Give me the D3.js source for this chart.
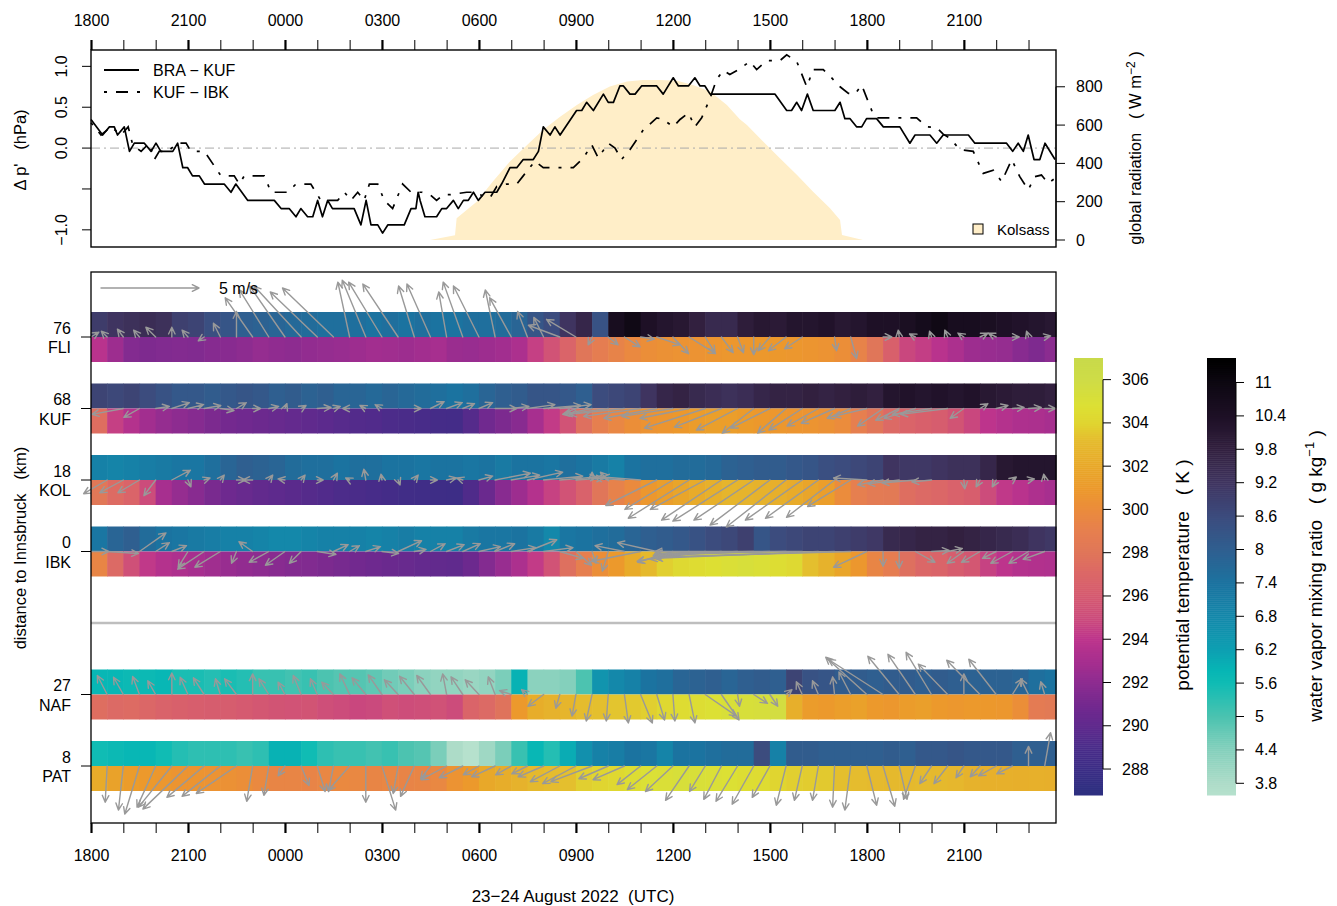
<!DOCTYPE html>
<html>
<head>
<meta charset="utf-8">
<script src="https://cdn.jsdelivr.net/npm/d3@7/dist/d3.min.js"></script>
<style>
body { margin: 0; background: #fff; }
text { font-family: "Liberation Sans", Arial, sans-serif; white-space: pre; }
</style>
</head>
<body>
<svg id="chart" width="1337" height="906"></svg>
<script>
// time is given in hours after 23 Aug 2022 18:00 UTC
const hourLabels = ['1800','2100','0000','0300','0600','0900','1200','1500','1800','2100'];

// pressure differences (hPa)
const braKufTime = [0,0.36,0.57,0.72,0.82,1.03,1.19,1.34,1.65,1.86,2.01,2.16,2.53,2.68,2.84,2.99,3.14,3.35,3.51,4.12,
  4.33,4.48,4.85,5.67,5.88,6.13,6.34,6.49,6.7,6.86,7.01,7.16,7.32,7.47,8.14,8.35,8.51,8.66,8.87,9.02,
  9.18,9.69,9.9,10.05,10.12,10.18,10.33,10.69,10.85,11.0,11.21,11.36,11.52,11.67,11.83,11.98,12.19,12.55,12.7,12.96,
  13.17,13.37,13.68,13.84,13.99,14.2,14.35,14.51,15.02,15.18,15.33,15.54,15.85,16.0,16.16,16.36,16.47,16.67,16.83,17.03,
  17.5,17.7,18.01,18.17,18.48,18.68,18.84,18.99,19.15,21.16,21.52,21.67,21.83,21.98,22.16,22.34,23.01,23.17,23.32,23.48,
  23.68,23.84,23.99,24.3,24.51,25.02,25.33,25.49,25.95,26.16,26.36,27.14,27.34,28.32,28.51,28.68,28.84,28.99,29.17,29.35,
  29.51,29.82];
const braKufValue = [0.35,0.16,0.26,0.26,0.16,0.26,-0.04,0.06,0.06,-0.04,0.06,-0.04,-0.04,0.06,-0.24,-0.24,-0.34,-0.34,-0.44,-0.44,
  -0.54,-0.44,-0.64,-0.64,-0.74,-0.74,-0.84,-0.74,-0.84,-0.84,-0.64,-0.84,-0.64,-0.74,-0.74,-0.94,-0.64,-0.94,-0.94,-1.04,
  -0.94,-0.94,-0.74,-0.74,-0.54,-0.64,-0.84,-0.84,-0.74,-0.74,-0.64,-0.74,-0.64,-0.64,-0.54,-0.64,-0.54,-0.54,-0.44,-0.24,
  -0.24,-0.14,-0.14,-0.04,0.26,0.16,0.26,0.16,0.46,0.46,0.56,0.46,0.66,0.56,0.56,0.76,0.76,0.66,0.66,0.76,
  0.76,0.66,0.86,0.76,0.76,0.86,0.76,0.76,0.66,0.66,0.46,0.46,0.56,0.46,0.66,0.46,0.46,0.56,0.36,0.36,
  0.26,0.26,0.36,0.36,0.26,0.26,0.06,0.16,0.16,0.06,0.16,0.16,0.06,0.06,-0.04,0.06,-0.04,0.16,-0.14,-0.14,
  0.06,-0.14];
const kufIbkTime = [0,0.31,0.62,0.93,1.15,1.29,1.55,1.8,1.96,2.11,2.37,2.68,2.94,3.09,3.51,4.02,4.43,4.59,4.74,5.36,
  5.57,6.08,6.34,6.8,7.11,7.63,7.84,8.04,8.25,8.45,8.61,8.87,9.07,9.33,9.64,9.9,10.23,10.49,10.69,10.9,
  11.1,11.62,11.83,12.03,12.34,12.55,12.86,13.17,13.37,13.73,13.99,14.92,15.23,15.49,15.69,16.0,16.21,16.41,16.67,17.08,
  17.5,17.7,18.01,18.22,18.48,18.68,18.89,19.15,19.35,19.56,19.76,20.07,20.38,20.59,20.9,21.31,21.52,21.83,22.14,22.34,
  22.65,22.86,23.17,23.43,23.63,23.84,24.2,24.3,25.07,25.54,25.85,26.16,26.36,26.57,26.88,27.29,27.6,27.91,28.17,28.48,
  28.73,28.99,29.2,29.4,29.61,29.82];
const kufIbkValue = [0.31,0.16,0.26,0.16,0.26,0.04,-0.04,0.06,-0.14,-0.04,-0.04,0.06,0.06,-0.04,-0.04,-0.34,-0.34,-0.44,-0.34,-0.34,
  -0.54,-0.54,-0.44,-0.44,-0.64,-0.64,-0.54,-0.64,-0.54,-0.64,-0.44,-0.44,-0.64,-0.74,-0.44,-0.54,-0.54,-0.57,-0.64,-0.57,
  -0.57,-0.54,-0.54,-0.57,-0.61,-0.47,-0.44,-0.44,-0.34,-0.16,-0.24,-0.24,-0.12,0.04,-0.12,0.06,0.0,-0.14,-0.02,0.22,
  0.37,0.35,0.26,0.35,0.43,0.26,0.37,0.61,0.84,0.95,0.9,0.97,1.06,0.96,1.07,1.07,1.14,1.06,0.75,0.96,
  0.96,0.88,0.75,0.67,0.66,0.77,0.41,0.37,0.37,0.37,0.26,0.25,0.17,0.12,-0.02,-0.04,-0.31,-0.27,-0.41,-0.14,
  -0.35,-0.51,-0.35,-0.33,-0.43,-0.37];

// global radiation at Kolsass (W m-2)
const radTime = [10.49,11.26,11.31,11.93,12.43,12.96,13.49,13.98,14.51,15.03,15.53,16.05,16.58,17.07,17.6,18.13,18.62,19.15,19.67,20.07,
  20.29,20.79,21.31,21.84,22.33,22.86,23.17,23.23,23.88];
const radValue = [0,25,113,200,305,410,496,574,644,705,757,801,827,836,836,831,809,775,705,630,
  601,514,427,340,253,166,104,26,0];

// stations
const stationNames = ['FLI','KUF','KOL','IBK','NAF','PAT'];
const stationDist = [76,68,18,0,27,8];

// half-hourly water vapor mixing ratio (g/kg)
const fliQ = [9.0,9.2,9.3,9.4,9.3,8.9,8.8,8.5,8.3,8.0, 7.9,7.8,7.7,7.6,7.5,7.5,7.5,7.4,7.5,7.4,
  7.5,7.4,7.4,7.5,7.5,7.6,7.8,8.3,8.6,9.2, 9.6,8.4,10.6,10.9,10.4,10.2,10.1,9.8,9.5,9.5,
  9.9,10.1,10.0,10.2,10.2,10.3,10.1,10.2,10.4,10.4, 10.5,10.7,10.9,10.6,10.6,10.5,10.4,10.3,10.2,10.1];
const kufQ = [8.8,8.7,8.8,8.6,8.4,8.2,8.2,8.1,8.2,8.3, 8.2,8.0,8.1,7.9,8.0,7.8,7.8,7.7,7.8,7.7,
  7.6,7.5,7.4,7.5,7.8,8.0,8.1,8.3,8.3,8.2, 8.0,8.6,8.7,8.8,9.2,9.6,9.7,9.5,9.4,9.3,
  9.4,9.6,9.7,9.7,9.8,9.7,9.8,9.9,9.8,10.2, 10.3,10.2,10.3,10.2,10.3,10.1,10.0,9.9,9.9,9.8];
const kolQ = [7.0,6.9,7.0,7.1,7.2,7.3,7.3,7.5,7.8,8.0, 7.9,7.8,7.6,7.5,7.5,7.4,7.5,7.5,7.4,7.4,
  7.3,7.4,7.4,7.3,7.4,7.2,7.4,7.4,7.3,7.5, 7.4,7.2,7.0,7.4,7.5,7.5,7.6,7.6,7.7,7.9,
  8.0,8.1,8.1,8.2,8.3,8.5,8.6,8.7,8.8,9.2, 9.1,9.1,9.2,9.3,9.3,9.6,10.1,10.2,10.2,10.2];
const ibkQ = [7.3,7.8,8.0,7.6,7.4,7.3,7.2,7.1,7.0,7.0, 6.9,6.8,6.8,6.9,7.0,7.0,7.0,6.9,7.0,7.1,
  7.0,7.0,7.0,7.2,7.3,7.3,7.4,7.2,6.8,7.3, 7.4,7.5,7.6,7.8,8.0,8.1,8.2,8.4,8.6,8.7,
  8.9,8.3,8.6,8.7,8.8,8.8,8.9,9.0,9.1,9.5, 9.6,9.7,9.7,9.8,9.7,9.6,9.5,9.4,9.2,9.1];
const nafQ = [5.8,5.8,5.7,5.7,5.8,5.5,5.5,5.4,5.5,5.4, 5.2,5.2,5.1,5.2,5.0,4.9,4.9,4.8,4.6,4.5,
  4.3,4.2,4.2,4.1,4.2,4.5,5.9,4.3,4.3,4.4, 5.0,6.5,6.8,7.0,7.4,7.5,7.8,7.9,8.0,7.8,
  8.0,8.1,8.0,8.8,8.4,8.3,8.1,8.1,8.0,8.1, 8.1,8.0,8.1,8.0,7.9,7.9,7.9,7.8,7.5,7.4];
const patQ = [5.6,5.7,5.8,5.8,5.6,5.4,5.3,5.3,5.3,5.2, 5.3,5.9,5.9,5.6,5.3,5.2,5.2,5.1,5.2,5.0,
  4.9,4.5,3.8,3.6,4.0,4.5,5.2,5.8,5.4,6.0, 6.6,7.0,7.1,7.4,7.3,6.9,7.4,7.4,7.5,7.6,
  7.6,8.6,7.0,8.1,8.1,8.0,8.0,8.0,8.0,8.1, 8.0,8.2,8.2,8.3,8.2,8.2,8.2,8.0,8.0,8.0];

// half-hourly potential temperature (K)
const fliTheta = [293.8,292.6,291.6,291.4,291.5,291.6,291.5,291.7,291.8,292.0, 292.3,292.1,292.0,292.2,292.3,292.4,292.6,292.8,292.7,292.6,
  292.8,293.0,292.5,292.4,292.6,292.8,293.2,294.5,295.5,296.8, 298.0,298.8,299.3,299.8,300.2,300.4,300.5,300.5,300.7,300.8,
  300.8,300.9,300.9,300.8,300.7,300.5,300.2,299.3,298.0,296.5, 294.8,294.4,293.8,293.2,292.6,292.4,292.3,291.8,291.4,291.9];
const kufTheta = [297.5,294.5,293.6,292.8,292.3,292.0,291.7,291.3,291.0,290.8, 290.6,290.4,290.2,290.0,289.8,289.6,289.4,289.3,289.1,289.0,
  288.9,288.7,288.6,289.5,290.8,291.3,291.8,293.0,294.3,295.5, 297.6,299.0,299.6,300.2,300.5,300.7,300.9,301.2,301.4,301.3,
  301.1,300.9,300.8,300.7,300.6,300.4,300.0,299.0,298.0,297.2, 296.8,296.5,296.2,295.6,294.8,294.0,293.6,293.3,293.2,293.0];
const kolTheta = [298.2,297.3,296.8,295.0,293.0,292.3,291.8,291.2,290.7,290.4, 290.1,289.9,289.7,289.5,289.3,289.1,289.0,288.8,288.6,288.4,
  288.3,288.2,288.1,289.2,290.5,291.8,292.6,293.6,294.6,295.5, 296.6,298.0,299.2,299.9,300.8,301.3,301.8,302.2,302.5,302.8,
  302.7,302.6,302.4,302.2,301.8,301.3,300.0,299.0,298.5,298.4, 297.5,297.2,297.0,296.6,296.3,295.0,294.2,293.8,293.3,293.0];
const ibkTheta = [299.5,297.2,295.3,294.2,293.6,293.3,293.0,292.7,292.4,292.2, 292.0,291.8,291.6,291.5,291.3,291.1,290.9,290.7,290.5,290.4,
  290.2,290.1,290.0,290.6,291.6,292.4,293.2,294.3,295.5,297.6, 299.0,300.2,301.0,302.2,303.0,303.8,304.3,304.5,304.7,305.0,
  305.2,305.0,304.6,304.3,303.3,302.6,301.8,300.8,299.5,298.8, 297.6,297.0,296.8,296.2,295.8,294.6,294.0,293.6,293.5,293.4];
const nafTheta = [297.5,297.2,297.3,297.0,296.7,296.5,296.3,296.2,296.2,296.0, 295.8,295.6,295.5,295.6,295.2,295.0,294.8,294.9,295.3,295.1,
  295.2,295.4,295.0,296.8,297.2,297.8,301.0,302.3,302.6,302.8, 303.2,303.3,303.5,303.6,303.8,304.2,304.5,304.6,304.8,305.1,
  305.2,305.3,305.6,302.4,301.2,301.0,301.3,301.5,301.0,300.8, 301.2,301.4,301.0,300.8,301.0,300.9,300.8,300.2,298.6,298.4];
const patTheta = [302.2,301.6,301.2,301.0,300.8,300.6,300.6,300.5,300.4,300.2, 299.8,299.5,299.5,299.4,299.6,299.8,299.7,299.5,299.6,299.4,
  299.5,299.7,300.5,301.0,302.0,302.3,302.6,303.0,303.2,303.3, 303.8,304.0,304.2,304.6,304.9,305.0,305.2,305.1,305.0,304.8,
  304.6,304.5,304.0,303.8,303.7,303.6,303.3,303.2,303.1,303.0, 303.0,303.1,303.0,302.9,302.6,302.5,302.5,302.4,302.5,302.4];

// half-hourly wind components (m/s), null = no arrow
const fliU = [0.4,-0.3,-0.3,-0.3,-0.5,0,-0.3,-0.3,-0.35,0, -1.4,-1.5,-1.8,-2.4,-2.4,-2.6,-0.6,-1.2,-1.7,-1.8,
  -0.8,-1.2,-0.4,-1.0,-1.3,-0.5,-1.1,-0.5,-0.5,-1.6, -1.5,-0.2,0.5,0.8,0.7,1.2,0.8,1.35,0.5,0.6,
  0.3,0,-0.6,-0.9,-0.9,null,0.1,0.3,null,0.45, -0.05,-0.3,-0.1,-0.15,-0.3,0.4,-0.4,0.35,-0.1,0.3];
const fliV = [0.25,0.3,0.4,0.35,0.5,0.5,0.35,-0.2,0.7,1.3, 2.0,2.4,2.6,2.6,2.3,2.5,2.8,2.9,2.8,2.7,
  2.6,2.7,2.3,2.8,2.6,2.4,2.0,1.3,1.0,0.6, 0.9,-0.4,-0.4,-0.5,-0.1,-0.4,-0.85,-0.85,-0.8,-0.8,
  -0.8,-0.9,-0.7,-0.7,-0.6,null,-0.7,-1.1,null,0, 0.35,0.15,0.3,0.35,0.2,0.2,0.2,0,0.3,0.05];
const kufU = [null,null,-1.6,-0.8,0.7,0.9,0.8,0.85,0.7,0.5, 0.4,0.5,0.1,0.25,0.7,0.35,-0.35,-0.3,-0.35,null,
  0.35,0.7,0.8,0.6,0.7,1.1,0.9,1.4,1.9,1.6, -0.5,-1.5,-2.2,-2.8,-2.9,-2.7,-2.6,-2.5,-3.1,-2.4,
  -2.1,-1.6,-2.0,-1.45,-1.7,-1.6,-1.7,-1.2,-1.7,-1.3, -1.2,-1.6,-2.0,-2.4,-0.7,0.4,0.6,0.6,0.65,0.55];
const kufV = [null,null,-0.3,-0.45,0.1,0.3,0.2,0.15,-0.1,0.3, 0,0.1,0.25,0.15,0.05,0.1,0,0.15,0.2,null,
  0,0.35,0.3,0.25,0.3,0,0.1,0.2,0.15,0.2, -0.2,-0.3,-0.3,-0.3,-0.4,-0.5,-0.4,-0.5,-1.0,-0.95,
  -1.1,-1.25,-1.0,-1.25,-1.1,-0.9,-0.75,-0.5,-0.4,-0.9, -0.6,-0.5,-0.3,-0.3,-0.5,0.25,0.15,0.05,0.05,0];
const kolU = [null,-1.2,-1.2,-1.1,-0.6,0.95,0.15,0.3,0.2,0.45, -0.5,0.2,-0.35,0.2,0.3,0.2,-0.2,-0.1,-0.05,0.1,
  0.2,0.35,0.5,-0.3,0.7,1.8,1.45,1.8,2.0,1.9, 1.4,0,-0.4,-1.5,-1.95,-2.6,-2.45,-3.1,-2.8,-3.05,
  -3.3,-3.05,-3.05,-3.05,-2.9,-2.7,-2.45,-2.2,-1.7,-1.3, -1.6,-1.7,-1.0,null,0.05,-0.2,-0.2,0.2,0.3,-0.05];
const kolV = [null,-0.7,-0.65,-0.65,-0.8,0.5,-0.35,0.1,0.25,0, 0,0.25,0.05,0.25,0,0.35,0.1,0.55,0.3,-0.25,
  0.25,0,0.1,0.1,0.2,0.35,0.25,0.4,0.2,0.15, 0.1,0.4,0.4,0.1,0.15,-1.3,-1.5,-1.95,-1.5,-2.05,
  -2.1,-2.05,-2.3,-2.4,-2.05,-1.95,-1.9,-1.35,0.1,-0.25, -0.2,-0.15,-0.1,null,-0.45,-0.35,-0.35,0.15,0.05,0.3];
const ibkU = [0.9,1.6,null,1.35,0.7,0.75,-0.5,-1.35,-1.3,-0.25, -0.7,-1.0,-1.0,-0.6,0.95,0.75,0.5,0.75,0.85,1.2,
  0.6,0.75,0.9,0.9,1.1,1.0,1.25,1.5,1.5,1.2, 0.8,0.2,-0.3,-1.5,-2.5,-2.0,-1.8,-2.65,-2.8,-3.5,
  -4.3,-5.0,-5.9,-6.7,-7.5,-8.3,-9.2,-10.0,-1.7,0, 0,1.0,0.9,0.75,-0.85,-0.95,-0.7,-1.1,-1.0,-1.1];
const ibkV = [0,-0.1,null,0.95,0.45,0.3,-0.8,-0.9,-0.8,-0.6, 0.5,-0.55,-0.7,-0.6,-0.15,0.35,0.3,0.25,-0.1,0.55,
  0.1,0.4,0.35,0.4,0.25,0.4,0.2,0.6,0.2,-0.35, -0.7,-0.6,-1.0,0.3,-0.5,0.45,-0.55,-0.5,-0.4,-0.3,
  -0.2,-0.1,-0.2,-0.1,0,-0.35,-0.3,-0.3,-0.8,-0.75, -0.85,-0.55,0.05,0.15,-0.6,-0.55,-0.35,-0.6,-0.6,-0.4];
const nafU = [null,-0.5,-0.5,-0.35,-0.4,0,-0.4,-0.55,-0.25,-0.6, 0,-0.5,-0.35,-0.4,-0.35,-0.6,-0.5,-0.7,-0.7,-0.7,
  -0.75,-0.7,-0.2,-0.6,-0.7,-0.35,-0.6,-0.3,-0.8,-0.2, -0.2,-0.3,-0.1,0.2,0.6,0.4,0.1,0.3,1.6,0.9,
  0.1,0.7,0.4,0.3,-0.3,-0.3,-0.1,-0.6,-2.1,-2.8, -1.6,-1.4,-1.3,-1.5,0,-1.7,-1.4,0.5,-0.4,-0.2];
const nafV = [null,0.97,0.88,0.92,0.7,1.1,0.88,0.85,0.8,0.8, 1.05,0.8,0.63,0.97,0.8,0.63,1.05,0.85,1.0,0.75,
  0.93,0.97,1.05,0.9,0.75,0.9,0.2,0.25,-0.6,-0.7, -1.1,-1.35,-1.35,-1.45,-1.45,-1.3,-1.35,-1.45,-1.1,-1.3,
  -0.6,-0.45,-0.6,0.25,0.65,0.7,0.9,1.15,1.9,1.8, 1.95,2.05,2.15,1.55,1.05,1.75,1.8,0.8,0.8,0.65];
const patU = [null,-0.1,-0.25,-0.75,-0.95,-1.7,-2.3,-1.9,-1.95,-2.05, -0.3,-0.25,-0.35,0.4,0.4,-0.25,-1.1,0,0.7,-0.25,
  -0.7,-0.5,-1.3,-1.2,-0.8,-1.2,-0.8,-0.8,-1.3,-1.5, -1.7,-2.1,-1.5,-1.6,-1.2,-1.5,-1.4,-1.2,-0.8,-0.9,
  -1.1,-1.1,-0.9,-0.5,-0.4,-0.3,-0.1,-0.3,0.5,0.6, 0.4,-0.6,-0.6,-0.7,-0.4,-0.5,-0.9,-0.8,0,0.3];
const patV = [null,-1.85,-2.25,-2.45,-2.1,-2.1,-2.2,-1.6,-1.55,-1.4, -1.8,-1.5,-0.5,-1.0,-1.3,-1.3,-1.25,-1.85,-2.25,-1.4,
  -1.55,-0.65,-0.7,-0.6,-0.45,-0.55,-0.45,-0.4,-0.55,-0.8, -0.9,-0.8,-0.65,-0.7,-0.95,-1.2,-1.3,-1.75,-1.3,-1.7,
  -1.8,-1.95,-1.6,-2.0,-1.75,-1.75,-2.1,-2.25,-2.0,-2.05, -1.7,-1.7,-0.9,-0.9,-0.6,-0.55,-0.5,-0.4,1.0,1.7];

// colour bars
const thetaTicks = [288,290,292,294,296,298,300,302,304,306];
const qTicks = [3.8,4.4,5,5.6,6.2,6.8,7.4,8,8.6,9.2,9.8,10.4,11];
const thetaStops = [287.0,287.9,288.9,289.9,290.9,292.0,292.9,294.0,295.0,296.0,297.1,298.0,299.0,300.1,300.9,302.0,303.2,304.0,304.8,306.0,306.9];
const thetaColors = ['#2E2F80','#3A2D85','#482C89','#5E2A8D','#72298F','#8D2C90','#A52E8F','#BD348C','#CC4C7B','#D55A70','#DC6866',
  '#E07659','#E67F4F','#EB8D3A','#EC982C','#E8A829','#E5BC2E','#E0D530','#DCE034','#CEDC47','#C9DA4A'];
const qStops = [3.37,3.8,4.39,4.99,5.6,5.83,6.19,6.79,7.39,7.99,8.59,9.2,9.79,10.39,11.0,11.4];
const qColors = ['#C0E6D3','#ADDCC8','#85D0BC','#4DC3B0','#10BCB4','#07B6B5','#0DA0B2','#1488AA','#1B73A0','#2F5F90','#3C4C7E',
  '#3F3460','#32203F','#1E1026','#0D0812','#000000'];

const FONT = '"Liberation Sans", Arial, sans-serif';
const RAD_FILL = '#FFEEC8';
const svg = d3.select('#chart');
svg.append('rect').attr('width', 1337).attr('height', 906).attr('fill', '#fff');

const x = d3.scaleLinear().domain([0, 29.85]).range([91, 1056]);
const yP = d3.scaleLinear().domain([-1.21, 1.2]).range([247, 50]);
const yR = d3.scaleLinear().domain([-36.5, 992]).range([247, 50]);
const thetaColor = d3.scaleLinear().domain(thetaStops).range(thetaColors).clamp(true);
const qColor = d3.scaleLinear().domain(qStops).range(qColors).clamp(true);
const wind = d3.scaleLinear().domain([0, 5]).range([0, 98]);
const halfHours = d3.range(60).map(function(i){ return i * 0.5 });

function zip(a, b){ return a.map(function(d, i){ return [d, b[i]] }) }

// ---------- top panel ----------
const topPanel = svg.append('g');
topPanel.append('path').datum(zip(radTime, radValue))
	.attr('d', d3.area().x(function(d){ return x(d[0]) }).y0(yR(0)).y1(function(d){ return yR(d[1]) }))
	.attr('fill', RAD_FILL);

topPanel.append('line').attr('x1', 91).attr('x2', 1056).attr('y1', yP(0)).attr('y2', yP(0))
	.attr('stroke', '#AAAAAA').attr('stroke-width', 1).attr('stroke-dasharray', '9,4,2,4');

const pLine = d3.line().x(function(d){ return x(d[0]) }).y(function(d){ return yP(d[1]) });
topPanel.append('path').datum(zip(braKufTime, braKufValue)).attr('d', pLine)
	.attr('fill', 'none').attr('stroke', '#000').attr('stroke-width', 1.7).attr('stroke-linejoin', 'round');
topPanel.append('path').datum(zip(kufIbkTime, kufIbkValue)).attr('d', pLine)
	.attr('fill', 'none').attr('stroke', '#000').attr('stroke-width', 1.7).attr('stroke-dasharray', '3,9,12,9');

topPanel.append('rect').attr('x', 91).attr('y', 50).attr('width', 965).attr('height', 197)
	.attr('fill', 'none').attr('stroke', '#000').attr('stroke-width', 1.4);

// legend
topPanel.append('line').attr('x1', 104).attr('x2', 139).attr('y1', 70).attr('y2', 70).attr('stroke', '#000').attr('stroke-width', 1.8);
topPanel.append('line').attr('x1', 104).attr('x2', 140).attr('y1', 92).attr('y2', 92).attr('stroke', '#000').attr('stroke-width', 1.8)
	.attr('stroke-dasharray', '3,9,12,9');
topPanel.append('text').attr('x', 153).attr('y', 76).attr('font-size', 16).text('BRA − KUF');
topPanel.append('text').attr('x', 153).attr('y', 98).attr('font-size', 16).text('KUF − IBK');
topPanel.append('rect').attr('x', 973).attr('y', 224).attr('width', 10).attr('height', 10)
	.attr('fill', RAD_FILL).attr('stroke', '#000').attr('stroke-width', 1);
topPanel.append('text').attr('x', 997).attr('y', 235).attr('font-size', 15).text('Kolsass');

// left axis (pressure)
const pTicks = [1, 0.5, 0, -0.5, -1];
const pLabels = ['1.0', '0.5', '0.0', '', '−1.0'];
pTicks.forEach(function(v, i){
	topPanel.append('line').attr('x1', 82).attr('x2', 91).attr('y1', yP(v)).attr('y2', yP(v)).attr('stroke', '#000');
	topPanel.append('text').attr('transform', 'translate(67,' + yP(v) + ') rotate(-90)')
		.attr('text-anchor', 'middle').attr('font-size', 16).text(pLabels[i]);
});
topPanel.append('text').attr('transform', 'translate(26,150) rotate(-90)').attr('text-anchor', 'middle')
	.attr('font-size', 16.5).text("Δ p'   (hPa)");

// right axis (radiation)
const rTicks = [0, 200, 400, 600, 800];
rTicks.forEach(function(v){
	topPanel.append('line').attr('x1', 1056).attr('x2', 1065).attr('y1', yR(v)).attr('y2', yR(v)).attr('stroke', '#000');
	topPanel.append('text').attr('x', 1076).attr('y', yR(v) + 5.5).attr('font-size', 16).text(v);
});
topPanel.append('line').attr('x1', 1056).attr('x2', 1056).attr('y1', yR(0)).attr('y2', yR(800)).attr('stroke', '#000');
const rTitle = topPanel.append('text').attr('transform', 'translate(1141,148) rotate(-90)').attr('text-anchor', 'middle').attr('font-size', 16.5);
rTitle.append('tspan').text('global radiation   ( W m');
rTitle.append('tspan').attr('dy', -6).attr('font-size', 12).text('−2');
rTitle.append('tspan').attr('dy', 6).text(' )');

// time axes
function timeAxis(g, gen){
	g.call(gen.tickValues(d3.range(0, 30)).tickSize(10)
		.tickFormat(function(h){ return h % 3 === 0 ? hourLabels[h / 3] : '' }));
	g.attr('font-family', FONT).attr('font-size', 16);
	g.select('.domain').remove();
	g.selectAll('.tick line').attr('stroke', '#000').attr('stroke-width', function(h){ return h % 3 === 0 ? 2.2 : 1 });
	g.selectAll('.tick text').attr('fill', '#000');
}
svg.append('g').attr('transform', 'translate(0,50)').call(timeAxis, d3.axisTop(x).tickPadding(14));
svg.append('g').attr('transform', 'translate(0,823)').call(timeAxis, d3.axisBottom(x).tickPadding(17));
svg.append('text').attr('x', 573).attr('y', 902).attr('text-anchor', 'middle').attr('font-size', 17)
	.text('23−24 August 2022  (UTC)');

// ---------- station panel ----------
const yS = d3.scalePoint().domain(['FLI', 'KUF', 'KOL', 'IBK', '-', 'NAF', 'PAT']).range([337, 766]);
const stations = [
	{q: fliQ, theta: fliTheta, u: fliU, v: fliV},
	{q: kufQ, theta: kufTheta, u: kufU, v: kufV},
	{q: kolQ, theta: kolTheta, u: kolU, v: kolV},
	{q: ibkQ, theta: ibkTheta, u: ibkU, v: ibkV},
	{q: nafQ, theta: nafTheta, u: nafU, v: nafV},
	{q: patQ, theta: patTheta, u: patU, v: patV}
];
const bands = svg.append('g');
const arrows = svg.append('g').attr('fill', 'none').attr('stroke', '#999999').attr('stroke-width', 1.4)
	.attr('stroke-linecap', 'round').attr('stroke-linejoin', 'round');

function arrow(g, x0, y0, x1, y1){
	const a = Math.atan2(y1 - y0, x1 - x0), h = 7.5, s = 0.45;
	g.append('path').attr('d', 'M' + x0 + ',' + y0 + 'L' + x1 + ',' + y1 +
		'M' + (x1 - h * Math.cos(a - s)) + ',' + (y1 - h * Math.sin(a - s)) + 'L' + x1 + ',' + y1 +
		'L' + (x1 - h * Math.cos(a + s)) + ',' + (y1 - h * Math.sin(a + s)));
}

stations.forEach(function(st, k){
	const name = stationNames[k];
	const y0 = yS(name);
	halfHours.forEach(function(t, i){
		const xa = x(t), xb = i < 59 ? x(halfHours[i + 1]) : x.range()[1];
		bands.append('rect').attr('x', xa).attr('y', y0 - 25).attr('width', xb - xa + 0.6).attr('height', 25).attr('fill', qColor(st.q[i]));
		bands.append('rect').attr('x', xa).attr('y', y0).attr('width', xb - xa + 0.6).attr('height', 25).attr('fill', thetaColor(st.theta[i]));
	});
	svg.append('line').attr('x1', 81).attr('x2', 91).attr('y1', y0).attr('y2', y0).attr('stroke', '#000');
	svg.append('text').attr('x', 71).attr('y', y0 - 3.5).attr('text-anchor', 'end').attr('font-size', 16).text(stationDist[k]);
	svg.append('text').attr('x', 71).attr('y', y0 + 16).attr('text-anchor', 'end').attr('font-size', 16).text(name);
});
bands.append('line').attr('x1', 91).attr('x2', 1056).attr('y1', yS('-')).attr('y2', yS('-'))
	.attr('stroke', '#BEBEBE').attr('stroke-width', 2.5);

stations.forEach(function(st, k){
	const y0 = yS(stationNames[k]);
	halfHours.forEach(function(t, i){
		if (st.u[i] === null) return;
		const x0 = x(t);
		arrow(arrows, x0, y0, x0 + wind(st.u[i]), y0 - wind(st.v[i]));
	});
});

// scale arrow
arrow(arrows, 101, 288, 101 + wind(5), 288);
svg.append('text').attr('x', 219).attr('y', 294).attr('font-size', 16).text('5 m/s');

svg.append('rect').attr('x', 91).attr('y', 272).attr('width', 965).attr('height', 551)
	.attr('fill', 'none').attr('stroke', '#000').attr('stroke-width', 1.3);
svg.append('text').attr('transform', 'translate(26,548) rotate(-90)').attr('text-anchor', 'middle')
	.attr('font-size', 16.5).text('distance to Innsbruck   (km)');

// ---------- colour bars ----------
function colorBar(x0, domain, color, ticks, fmt){
	const s = d3.scaleLinear().domain(domain).range([795, 358]);
	const n = 220, step = (domain[1] - domain[0]) / n;
	const g = svg.append('g');
	d3.range(n).forEach(function(i){
		const v0 = domain[0] + i * step;
		g.append('rect').attr('x', x0).attr('width', 29).attr('y', s(v0 + step)).attr('height', s(v0) - s(v0 + step) + 0.5)
			.attr('fill', color(v0 + step / 2));
	});
	g.append('line').attr('x1', x0 + 29).attr('x2', x0 + 29).attr('y1', s(ticks[0])).attr('y2', s(ticks[ticks.length - 1])).attr('stroke', '#000');
	ticks.forEach(function(v){
		g.append('line').attr('x1', x0 + 29).attr('x2', x0 + 37).attr('y1', s(v)).attr('y2', s(v)).attr('stroke', '#000');
		g.append('text').attr('x', x0 + 48).attr('y', s(v) + 5.5).attr('font-size', 16).text(fmt(v));
	});
}
colorBar(1074, [286.8, 307.0], thetaColor, thetaTicks, function(v){ return v });
colorBar(1207, [3.59, 11.44], qColor, qTicks, function(v){ return String(v) });

svg.append('text').attr('transform', 'translate(1189,575) rotate(-90)').attr('text-anchor', 'middle')
	.attr('font-size', 19).text('potential temperature   ( K )');
const qTitle = svg.append('text').attr('transform', 'translate(1322,576) rotate(-90)').attr('text-anchor', 'middle').attr('font-size', 19);
qTitle.append('tspan').text('water vapor mixing ratio   ( g kg');
qTitle.append('tspan').attr('dy', -8).attr('font-size', 13).text('−1');
qTitle.append('tspan').attr('dy', 8).text(' )');
</script>
</body>
</html>
